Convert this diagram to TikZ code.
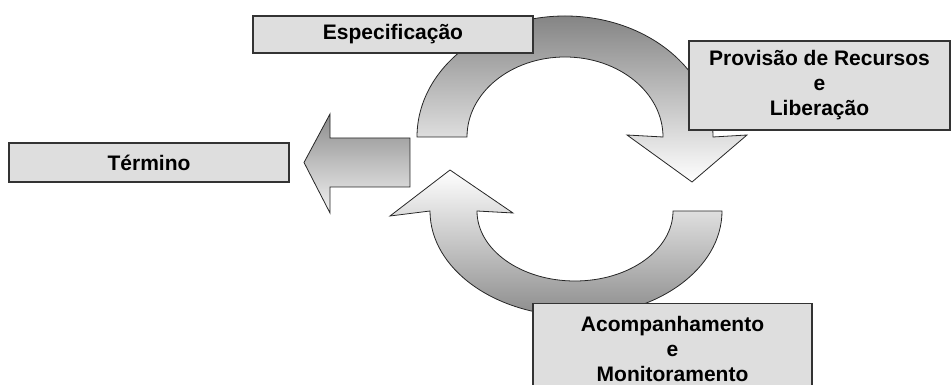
\documentclass[tikz,border=0pt]{standalone}
\usepackage{fontspec}
\setmainfont{Liberation Sans}

\tikzset{
	etapa/.style={draw=black!80, line width=1.2pt, fill=black!13, align=center, inner sep=0pt,
		font=\bfseries\fontsize{21}{25}\selectfont},
	seta/.style={draw=black!85, line width=0.8pt},
}

\begin{document}
\begin{tikzpicture}[x=1pt,y=1pt]
	\useasboundingbox (0,0) rectangle (952,385);

	% setas do ciclo
	\shadedraw[seta, top color=black!48, bottom color=white]
	(417,248) arc[start angle=180, end angle=0, x radius=148, y radius=121]
	-- (747,250) -- (692,203) -- (627,250) -- (663,248)
	arc[start angle=0, end angle=180, x radius=98, y radius=80] -- cycle;
	\shadedraw[seta, top color=white, bottom color=black!45]
	(673,174) -- (722,174)
	arc[start angle=0, end angle=-180, x radius=146, y radius=105]
	-- (390,169) -- (450,215) -- (513,172) -- (477,174)
	arc[start angle=180, end angle=360, x radius=98, y radius=70] -- cycle;
	\shadedraw[seta, top color=black!45, bottom color=black!5]
	(410,247) -- ++(-80,0) -- ++(0,24) -- ++(-26,-48.5)
	-- ++(26,-50.5) -- ++(0,26) -- ++(80,0) -- cycle;

	% etapas
	\node[etapa, minimum width=280pt, minimum height=37pt] (especificacao) at (393,350.5) {Especificação};
	\node[etapa, minimum width=261pt, minimum height=89pt] (provisao) at (819.5,299.5) {Provisão de Recursos\\e\\Liberação};
	\node[etapa, minimum width=280pt, minimum height=39pt] (termino) at (149,222.5) {Término};
	\node[etapa, minimum width=279pt, minimum height=91pt, anchor=north] (acompanhamento) at (672.5,82) {Acompanhamento\\e\\Monitoramento};
\end{tikzpicture}
\end{document}
